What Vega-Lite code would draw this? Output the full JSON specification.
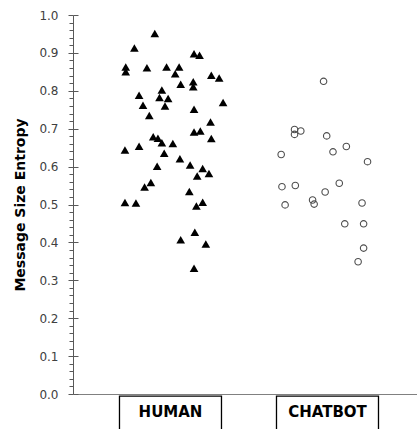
{
  "$schema": "https://vega.github.io/schema/vega-lite/v6.json",
  "width": 344,
  "height": 379,
  "autosize": "none",
  "padding": {"left": 73, "top": 15, "right": 0, "bottom": 35},
  "background": "white",
  "config": {"view": {"stroke": null}},
  "datasets": {
    "points": [
      {"group": "HUMAN", "entropy": 0.951, "jitter": -0.20},
      {"group": "HUMAN", "entropy": 0.913, "jitter": -0.46},
      {"group": "HUMAN", "entropy": 0.898, "jitter": 0.30},
      {"group": "HUMAN", "entropy": 0.894, "jitter": 0.37},
      {"group": "HUMAN", "entropy": 0.863, "jitter": -0.57},
      {"group": "HUMAN", "entropy": 0.850, "jitter": -0.57},
      {"group": "HUMAN", "entropy": 0.861, "jitter": -0.30},
      {"group": "HUMAN", "entropy": 0.863, "jitter": -0.05},
      {"group": "HUMAN", "entropy": 0.863, "jitter": 0.11},
      {"group": "HUMAN", "entropy": 0.845, "jitter": 0.06},
      {"group": "HUMAN", "entropy": 0.841, "jitter": 0.52},
      {"group": "HUMAN", "entropy": 0.834, "jitter": 0.62},
      {"group": "HUMAN", "entropy": 0.817, "jitter": 0.13},
      {"group": "HUMAN", "entropy": 0.824, "jitter": 0.29},
      {"group": "HUMAN", "entropy": 0.811, "jitter": 0.29},
      {"group": "HUMAN", "entropy": 0.802, "jitter": -0.11},
      {"group": "HUMAN", "entropy": 0.788, "jitter": -0.40},
      {"group": "HUMAN", "entropy": 0.782, "jitter": -0.14},
      {"group": "HUMAN", "entropy": 0.780, "jitter": -0.03},
      {"group": "HUMAN", "entropy": 0.769, "jitter": 0.67},
      {"group": "HUMAN", "entropy": 0.762, "jitter": -0.35},
      {"group": "HUMAN", "entropy": 0.760, "jitter": -0.07},
      {"group": "HUMAN", "entropy": 0.751, "jitter": 0.30},
      {"group": "HUMAN", "entropy": 0.735, "jitter": -0.27},
      {"group": "HUMAN", "entropy": 0.718, "jitter": 0.51},
      {"group": "HUMAN", "entropy": 0.691, "jitter": 0.30},
      {"group": "HUMAN", "entropy": 0.694, "jitter": 0.38},
      {"group": "HUMAN", "entropy": 0.679, "jitter": -0.22},
      {"group": "HUMAN", "entropy": 0.675, "jitter": -0.16},
      {"group": "HUMAN", "entropy": 0.663, "jitter": -0.11},
      {"group": "HUMAN", "entropy": 0.661, "jitter": 0.03},
      {"group": "HUMAN", "entropy": 0.674, "jitter": 0.52},
      {"group": "HUMAN", "entropy": 0.644, "jitter": -0.58},
      {"group": "HUMAN", "entropy": 0.654, "jitter": -0.40},
      {"group": "HUMAN", "entropy": 0.635, "jitter": -0.08},
      {"group": "HUMAN", "entropy": 0.621, "jitter": 0.12},
      {"group": "HUMAN", "entropy": 0.601, "jitter": -0.17},
      {"group": "HUMAN", "entropy": 0.604, "jitter": 0.25},
      {"group": "HUMAN", "entropy": 0.595, "jitter": 0.41},
      {"group": "HUMAN", "entropy": 0.575, "jitter": 0.34},
      {"group": "HUMAN", "entropy": 0.582, "jitter": 0.49},
      {"group": "HUMAN", "entropy": 0.558, "jitter": -0.25},
      {"group": "HUMAN", "entropy": 0.546, "jitter": -0.33},
      {"group": "HUMAN", "entropy": 0.534, "jitter": 0.24},
      {"group": "HUMAN", "entropy": 0.505, "jitter": -0.58},
      {"group": "HUMAN", "entropy": 0.504, "jitter": -0.44},
      {"group": "HUMAN", "entropy": 0.506, "jitter": 0.41},
      {"group": "HUMAN", "entropy": 0.496, "jitter": 0.33},
      {"group": "HUMAN", "entropy": 0.427, "jitter": 0.31},
      {"group": "HUMAN", "entropy": 0.407, "jitter": 0.13},
      {"group": "HUMAN", "entropy": 0.396, "jitter": 0.45},
      {"group": "HUMAN", "entropy": 0.332, "jitter": 0.30},
      {"group": "CHATBOT", "entropy": 0.825, "jitter": -0.05},
      {"group": "CHATBOT", "entropy": 0.698, "jitter": -0.42},
      {"group": "CHATBOT", "entropy": 0.694, "jitter": -0.34},
      {"group": "CHATBOT", "entropy": 0.685, "jitter": -0.42},
      {"group": "CHATBOT", "entropy": 0.681, "jitter": -0.01},
      {"group": "CHATBOT", "entropy": 0.653, "jitter": 0.24},
      {"group": "CHATBOT", "entropy": 0.639, "jitter": 0.07},
      {"group": "CHATBOT", "entropy": 0.632, "jitter": -0.59},
      {"group": "CHATBOT", "entropy": 0.613, "jitter": 0.51},
      {"group": "CHATBOT", "entropy": 0.556, "jitter": 0.15},
      {"group": "CHATBOT", "entropy": 0.550, "jitter": -0.41},
      {"group": "CHATBOT", "entropy": 0.547, "jitter": -0.58},
      {"group": "CHATBOT", "entropy": 0.533, "jitter": -0.03},
      {"group": "CHATBOT", "entropy": 0.512, "jitter": -0.19},
      {"group": "CHATBOT", "entropy": 0.501, "jitter": -0.17},
      {"group": "CHATBOT", "entropy": 0.499, "jitter": -0.54},
      {"group": "CHATBOT", "entropy": 0.504, "jitter": 0.44},
      {"group": "CHATBOT", "entropy": 0.449, "jitter": 0.22},
      {"group": "CHATBOT", "entropy": 0.449, "jitter": 0.46},
      {"group": "CHATBOT", "entropy": 0.385, "jitter": 0.46},
      {"group": "CHATBOT", "entropy": 0.349, "jitter": 0.39}
    ],
    "groups": [{"group": "HUMAN"}, {"group": "CHATBOT"}]
  },
  "resolve": {"axis": {"y": "independent"}},
  "layer": [
    {
      "data": {"name": "groups"},
      "mark": {"type": "bar", "width": 102, "fill": null, "fillOpacity": 0, "stroke": "#000000", "strokeWidth": 1.3},
      "encoding": {
        "x": {"field": "group", "type": "nominal", "sort": ["HUMAN", "CHATBOT"],
          "scale": {"type": "band", "paddingInner": 0, "paddingOuter": 0.0955, "align": 0.633},
          "axis": {"title": null, "ticks": false, "domain": true, "domainColor": "#808080", "domainWidth": 1,
            "labelFont": "DejaVu Sans", "labelFontWeight": "bold", "labelFontSize": 15, "labelColor": "#000000",
            "labelPadding": 10, "labelAngle": 0}},
        "y": {"datum": -0.0055, "type": "quantitative", "scale": {"domain": [0, 1], "nice": false, "zero": false},
          "axis": {"title": "Message Size Entropy", "titleFont": "DejaVu Sans", "titleFontSize": 14, "titleFontWeight": "bold",
            "titleColor": "#000000", "titlePadding": 11,
            "values": [0, 0.02, 0.04, 0.06, 0.08, 0.1, 0.12, 0.14, 0.16, 0.18, 0.2, 0.22, 0.24, 0.26, 0.28, 0.3, 0.32, 0.34, 0.36, 0.38, 0.4, 0.42, 0.44, 0.46, 0.48, 0.5, 0.52, 0.54, 0.56, 0.58, 0.6, 0.62, 0.64, 0.66, 0.68, 0.7, 0.72, 0.74, 0.76, 0.78, 0.8, 0.82, 0.84, 0.86, 0.88, 0.9, 0.92, 0.94, 0.96, 0.98, 1.0],
            "labelExpr": "abs(datum.value * 10 - round(datum.value * 10)) < 0.001 ? format(datum.value, '.1f') : ''",
            "labelFont": "DejaVu Sans", "labelFontSize": 12, "labelColor": "#404040", "labelPadding": 10,
            "tickSize": {"condition": {"test": "abs(datum.value * 10 - round(datum.value * 10)) < 0.001", "value": 5}, "value": 4},
            "tickColor": "#595959", "domainColor": "#595959", "grid": false, "labelOverlap": false, "labelFlush": false}},
        "y2": {"datum": -0.2}
      }
    },
    {
      "data": {"name": "points"},
      "mark": {"type": "point", "filled": true, "opacity": 1},
      "encoding": {
        "x": {"field": "group", "type": "nominal", "sort": ["HUMAN", "CHATBOT"]},
        "xOffset": {"field": "jitter", "type": "quantitative", "scale": {"domain": [-1, 1], "nice": false, "zero": false}},
        "y": {"field": "entropy", "type": "quantitative",
          "axis": {"orient": "left", "title": null, "labels": false, "domain": false, "grid": false,
            "values": [0, 0.1, 0.2, 0.3, 0.4, 0.5, 0.6, 0.7, 0.8, 0.9, 1.0], "tickSize": -5, "tickColor": "#595959"}},
        "shape": {"field": "group", "type": "nominal", "legend": null,
          "scale": {"domain": ["HUMAN", "CHATBOT"], "range": ["triangle-up", "circle"]}},
        "fill": {"field": "group", "type": "nominal", "legend": null,
          "scale": {"domain": ["HUMAN", "CHATBOT"], "range": ["#000000", "transparent"]}},
        "stroke": {"field": "group", "type": "nominal", "legend": null,
          "scale": {"domain": ["HUMAN", "CHATBOT"], "range": ["transparent", "#4d4d4d"]}},
        "size": {"field": "group", "type": "nominal", "legend": null,
          "scale": {"domain": ["HUMAN", "CHATBOT"], "range": [75, 42]}},
        "strokeWidth": {"value": 1.1}
      }
    }
  ]
}
